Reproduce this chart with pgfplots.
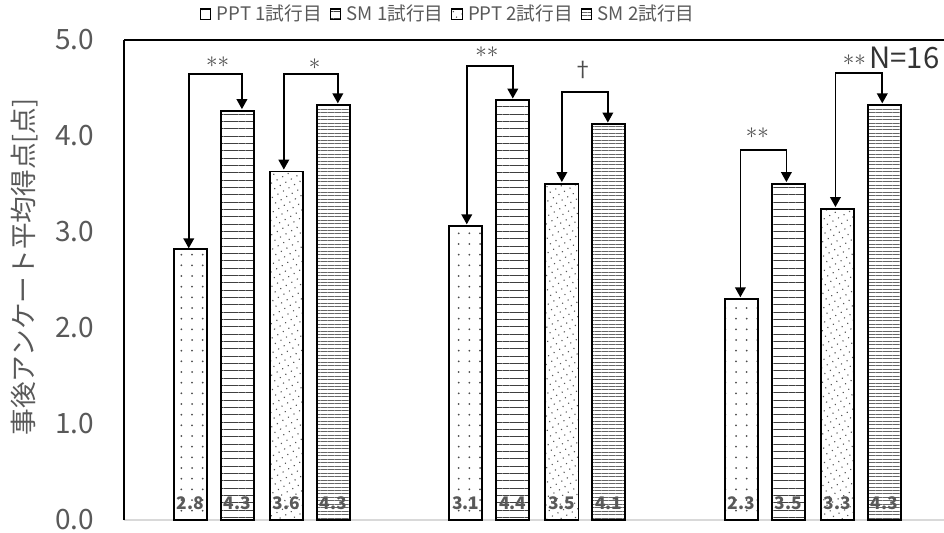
\documentclass[border=0pt]{standalone}
\usepackage{fontspec}
\setmainfont{Noto Sans CJK JP}
\usepackage{pgfplots}
\pgfplotsset{compat=1.18}
\usetikzlibrary{patterns.meta,arrows.meta}
\definecolor{txt}{HTML}{595959}
\definecolor{axgray}{HTML}{D9D9D9}
\begin{document}
\begin{tikzpicture}[x=1pt,y=1pt]
\begin{axis}[
  at={(0,0)}, anchor=south west,
  scale only axis, width=615pt, height=360pt,
  xmin=-0.5, xmax=2.476, ymin=0, ymax=5,
  clip=false,
  axis x line*=bottom, axis y line*=left,
  x axis line style={draw=axgray, line width=1.5pt},
  y axis line style={draw=black, line width=1pt},
  xtick=\empty,
  ytick={0,1,2,3,4,5},
  major tick length=0pt,
  /pgf/number format/assume math mode=true,
  yticklabel style={/pgf/number format/.cd, fixed, fixed zerofill, precision=1, /tikz/.cd, font=\fontsize{21}{21}\selectfont, text=txt, xshift=-19pt},
  ylabel={事後アンケート平均得点[点]},
  every axis y label/.style={at={(axis description cs:-0.1207,0.527)}, rotate=90, anchor=center, font=\fontsize{20}{20}\selectfont, text=txt},
  legend columns=4,
  legend style={at={(axis description cs:0.396,1.054)}, anchor=center, draw=none, fill=none, font=\fontsize{14}{14}\selectfont, text=txt, inner sep=0pt, /tikz/every even column/.append style={column sep=4pt}},
  legend image code/.code={\draw[#1, line width=0.8pt] (0pt,-3.8pt) rectangle (7.6pt,3.8pt); \path (9.5pt,0pt);},
]
% bars
\addplot[ybar, bar width=0.12, bar shift=0pt, draw=black, line width=1.3pt, pattern={Dots[distance=8pt,radius=0.75pt]}, pattern color=black!70]
  coordinates {(-0.2595,2.82) (0.7405,3.06) (1.7405,2.30)};
\addlegendentry{PPT 1試行目}
\addplot[ybar, bar width=0.12, bar shift=0pt, draw=black, line width=1.3pt, pattern={Lines[angle=0,distance=5.5pt,line width=0.7pt]}, pattern color=black!75]
  coordinates {(-0.089,4.26) (0.911,4.375) (1.911,3.50)};
\addlegendentry{SM 1試行目}
\addplot[ybar, bar width=0.12, bar shift=0pt, draw=black, line width=1.3pt, pattern={Dots[distance=4.8pt,radius=0.6pt,angle=30]}, pattern color=black!65]
  coordinates {(0.089,3.63) (1.089,3.50) (2.089,3.24)};
\addlegendentry{PPT 2試行目}
\addplot[ybar, bar width=0.12, bar shift=0pt, draw=black, line width=1.3pt, pattern={Lines[angle=0,distance=2.6pt,line width=0.6pt]}, pattern color=black!60]
  coordinates {(0.2595,4.32) (1.2595,4.125) (2.2595,4.32)};
\addlegendentry{SM 2試行目}
% value labels
\addplot[forget plot, only marks, mark=*, mark size=0pt, mark options={draw=none,fill=none},
  nodes near coords, point meta=explicit symbolic,
  every node near coord/.style={anchor=center, font=\bfseries\fontsize{13}{13}\selectfont, text=txt}]
  coordinates {(-0.2595,0.177)[2.8] (-0.089,0.177)[4.3] (0.089,0.177)[3.6] (0.2595,0.177)[4.3]
               (0.7405,0.177)[3.1] (0.911,0.177)[4.4] (1.089,0.177)[3.5] (1.2595,0.177)[4.1]
               (1.7405,0.177)[2.3] (1.911,0.177)[3.5] (2.089,0.177)[3.3] (2.2595,0.177)[4.3]};
% brackets
\pgfplotsset{brk/.style={forget plot, black, line width=1.2pt, mark=none, arrows={Triangle[width=8pt,length=7.5pt]-Triangle[width=8pt,length=7.5pt]}}}
\addplot[brk] coordinates {(-0.265,2.83) (-0.265,4.646) (-0.072,4.646) (-0.072,4.28)};
\addplot[brk] coordinates {(0.080,3.65) (0.080,4.646) (0.276,4.646) (0.276,4.34)};
\addplot[brk] coordinates {(0.744,3.08) (0.744,4.73) (0.911,4.73) (0.911,4.39)};
\addplot[brk] coordinates {(1.089,3.52) (1.089,4.458) (1.256,4.458) (1.256,4.14)};
\addplot[brk] coordinates {(1.737,2.32) (1.737,3.854) (1.904,3.854) (1.904,3.52)};
\addplot[brk] coordinates {(2.082,3.26) (2.082,4.656) (2.252,4.656) (2.252,4.34)};
% significance marks
\tikzset{sig/.style={text=black!70, font=\fontsize{16}{16}\selectfont}}
\node[sig] at (axis cs:-0.16,4.77) {$\ast\ast$};
\node[sig] at (axis cs:0.192,4.75) {$\ast$};
\node[sig] at (axis cs:0.817,4.875) {$\ast\ast$};
\node[sig] at (axis cs:1.165,4.69) {†};
\node[sig] at (axis cs:1.799,4.03) {$\ast\ast$};
\node[sig] at (axis cs:2.151,4.79) {$\ast\ast$};
\node[text=black!80, font=\fontsize{22}{22}\selectfont, anchor=east] at (axis cs:2.476,4.81) {N=16};
% top border
\draw[black, line width=1pt] (rel axis cs:0,1) -- (rel axis cs:1,1);
\end{axis}
\pgfresetboundingbox
\path (-93pt,-9pt) rectangle (615pt,390pt);
\end{tikzpicture}
\end{document}
